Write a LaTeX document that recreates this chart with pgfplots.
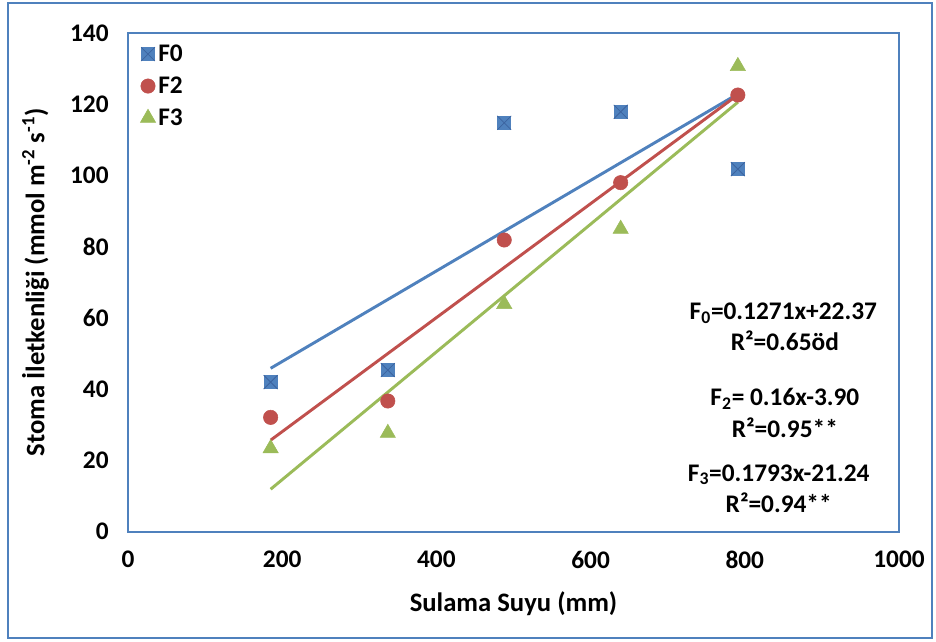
\documentclass[border=0pt]{standalone}
\usepackage{fontspec}
\setmainfont{Carlito}
\usepackage{pgfplots}
\pgfplotsset{compat=1.18}

\definecolor{xlblue}{RGB}{79,129,189}
\definecolor{xlbluedk}{RGB}{60,100,160}
\definecolor{xlred}{RGB}{192,80,77}
\definecolor{xlgreen}{RGB}{155,187,89}

% square with a cross, as in the spreadsheet
\pgfdeclareplotmark{sqx}{%
  \pgfpathrectangle{\pgfpoint{-\pgfplotmarksize}{-\pgfplotmarksize}}%
    {\pgfpoint{2\pgfplotmarksize}{2\pgfplotmarksize}}%
  \pgfusepath{fill}%
  \pgfpathmoveto{\pgfpoint{-\pgfplotmarksize}{-\pgfplotmarksize}}%
  \pgfpathlineto{\pgfpoint{\pgfplotmarksize}{\pgfplotmarksize}}%
  \pgfpathmoveto{\pgfpoint{-\pgfplotmarksize}{\pgfplotmarksize}}%
  \pgfpathlineto{\pgfpoint{\pgfplotmarksize}{-\pgfplotmarksize}}%
  \pgfusepath{stroke}}

\newcommand{\lbl}{\bfseries\fontsize{20}{23}\selectfont}
\newcommand{\tck}{\bfseries\fontsize{19}{22}\selectfont}

\begin{document}
\begin{tikzpicture}
\useasboundingbox (-96pt,-82pt) rectangle (606pt,398.8pt);
\draw[xlblue, line width=2pt] (-90pt,-79.7pt) rectangle (603pt,396.5pt);
\begin{axis}[
    at={(0,0)}, anchor=south west,
    scale only axis,
    width=578.25pt, height=374pt,
    xmin=0, xmax=1000, ymin=0, ymax=140,
    xtick={0,200,...,1000}, ytick={0,20,...,140},
    major tick length=0pt,
    axis line style={xlblue, line width=1.6pt},
    tick label style={font=\tck},
    /pgf/number format/assume math mode=true,
    /pgf/number format/1000 sep={},
    yticklabel style={xshift=-11pt},
    xticklabel style={yshift=-11pt},
    xlabel={Sulama Suyu (mm)},
    ylabel={Stoma İletkenliği (mmol m\textsuperscript{-2} s\textsuperscript{-1})},
    label style={font=\lbl},
    xlabel style={yshift=-10pt},
    ylabel style={yshift=9pt},
    legend style={draw=none, fill=none, at={(0.014,0.985)}, anchor=north west,
        font=\tck, row sep=6pt, inner sep=1pt,
        nodes={inner xsep=2pt}},
    legend cell align=left,
    legend image code/.code={\draw[#1] plot coordinates {(0.2cm,0cm)};},
]
% F0
\addplot[only marks, mark=sqx, mark size=5.2pt, fill=xlblue, draw=xlbluedk, line width=0.6pt]
    coordinates {(185,42.0) (337,45.4) (488,114.8) (639,117.9) (791,101.8)};
\addlegendentry{F0}
% F2
\addplot[only marks, mark=*, mark size=5.4pt, fill=xlred, draw=xlred]
    coordinates {(185,32.1) (337,36.7) (488,81.9) (639,98.0) (791,122.6)};
\addlegendentry{F2}
% F3
\addplot[only marks, mark=triangle*, mark size=6.6pt, fill=xlgreen, draw=xlgreen]
    coordinates {(185,23.4) (337,27.7) (488,63.9) (639,85.0) (791,130.7)};
\addlegendentry{F3}

% trend lines (end points of the fitted equations)
\addplot[forget plot, xlblue, line width=2.2pt] coordinates {(185,45.88) (791,122.91)};
\addplot[forget plot, xlred, line width=2.2pt] coordinates {(185,25.70) (791,122.66)};
\addplot[forget plot, xlgreen, line width=2.2pt] coordinates {(185,11.93) (791,120.59)};

\node[font=\tck] at (axis cs:850,61.3) {F\textsubscript{0}=0.1271x+22.37};
\node[font=\tck] at (axis cs:852,53.6) {R²=0.65öd};
\node[font=\tck] at (axis cs:852,37.4) {F\textsubscript{2}= 0.16x-3.90};
\node[font=\tck] at (axis cs:852,29.2) {R²=0.95**};
\node[font=\tck] at (axis cs:844,16.0) {F\textsubscript{3}=0.1793x-21.24};
\node[font=\tck] at (axis cs:844,8.2) {R²=0.94**};
\end{axis}
\end{tikzpicture}
\end{document}
